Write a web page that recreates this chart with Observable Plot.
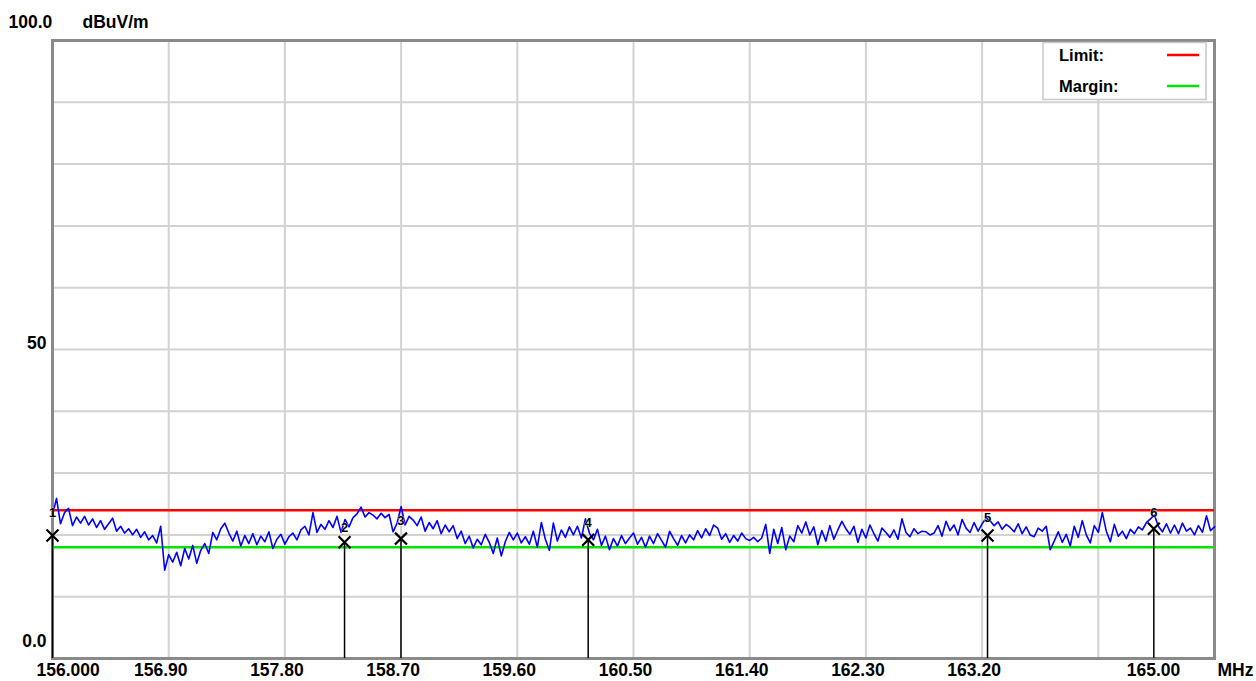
<!DOCTYPE html>
<html>
<head>
<meta charset="utf-8">
<script src="https://cdn.jsdelivr.net/npm/d3@7"></script>
<script src="https://cdn.jsdelivr.net/npm/@observablehq/plot@0.6"></script>
<style>
  html, body { margin: 0; padding: 0; background: #fff; overflow: hidden; }
  #chart svg { display: block; }
</style>
</head>
<body>
<div id="chart"></div>
<script>
// ---- data ----
const freqStart = 156.0;
const freqStop = 165.0;
const level = [
  23.2, 25.9, 21.8, 23.6, 24.3, 21.5, 22.9, 21.9, 23.0, 21.6,
  22.6, 21.2, 22.3, 20.9, 21.8, 22.7, 20.6, 21.4, 20.3, 21.0,
  20.0, 20.9, 19.6, 20.5, 19.2, 19.9, 18.7, 21.4, 14.3, 16.8,
  15.6, 17.2, 15.0, 17.8, 16.1, 18.3, 15.4, 17.5, 18.6, 17.0,
  20.4, 19.2, 21.0, 21.9, 20.3, 19.0, 20.6, 18.2, 19.9, 18.6,
  20.2, 18.4, 19.8, 18.9, 20.5, 17.8, 19.3, 20.1, 18.5, 19.7,
  20.3, 19.2, 20.8, 21.4, 20.0, 23.6, 20.4, 21.7, 20.9, 22.3,
  21.2, 23.0, 20.4, 22.5, 21.3, 22.8, 23.4, 24.5, 22.9, 23.6,
  23.2, 22.6, 23.5, 22.8, 23.3, 20.5, 21.9, 24.6, 21.6, 23.0,
  22.4, 21.5, 22.9, 20.6, 22.0, 21.0, 22.3, 20.2, 21.6, 20.5,
  21.5, 19.4, 20.6, 18.6, 19.8, 17.9, 19.3, 18.4, 20.1, 18.8,
  17.0, 19.5, 16.6, 18.9, 20.4, 19.2, 20.3, 18.7, 19.7, 18.5,
  20.6, 18.0, 22.0, 19.3, 17.5, 21.9, 19.0, 20.8, 19.6, 21.3,
  20.0, 21.4, 19.5, 22.6, 20.3, 19.2, 20.9, 18.3, 19.8, 17.6,
  19.4, 18.2, 19.9, 18.6, 19.5, 20.3, 18.5, 19.6, 18.0, 19.8,
  18.6, 20.2, 19.1, 18.0, 20.6, 19.4, 18.3, 19.9, 18.7, 20.0,
  19.2, 20.7, 19.5, 21.0, 19.9, 21.6, 21.1, 19.3, 20.2, 18.8,
  19.9, 19.0, 20.3, 19.4, 19.1, 19.6, 18.9, 19.5, 21.7, 17.0,
  20.9, 18.6, 21.2, 17.6, 19.8, 18.9, 21.5, 20.3, 22.1, 20.0,
  21.3, 18.4, 20.7, 19.0, 21.5, 19.3, 20.8, 22.2, 21.0, 20.1,
  21.4, 18.8, 20.9, 19.5, 21.6, 20.2, 19.0, 21.1, 20.4, 19.6,
  20.8, 19.3, 22.6, 20.4, 19.7, 21.0, 20.2, 20.6, 20.5, 20.0,
  20.3, 21.5, 19.8, 22.2, 20.7, 21.6, 20.0, 22.5, 21.1, 20.4,
  22.0, 20.6, 21.8, 22.7, 22.3, 21.5, 22.1, 20.9, 21.7, 21.2,
  20.5, 21.8, 20.2, 21.3, 20.0, 19.7, 21.1, 20.6, 21.4, 17.6,
  19.0, 20.5, 18.8, 20.1, 18.2, 21.4, 19.6, 22.3, 20.0, 18.7,
  21.5, 20.4, 23.6, 20.6, 18.9, 21.7, 19.8, 20.6, 19.4, 20.9,
  20.2, 21.3, 20.8, 22.0, 22.6, 23.2, 21.4, 20.5, 21.8, 20.3,
  21.6, 20.2, 21.9, 20.6, 21.1, 20.0, 21.5, 20.4, 23.1, 20.7, 21.3
];
const limitLevel = 24;
const marginLevel = 18;

const markerNo   = [1, 2, 3, 4, 5, 6];
const markerFreq = [156.000, 158.262, 158.699, 160.149, 163.242, 164.530];
const markerPeak = [23.5, 21.2, 22.3, 22.0, 22.8, 23.6];
const markerQP   = [19.9, 18.8, 19.4, 19.2, 19.9, 21.0];

const xGridValues = [156.9, 157.8, 158.7, 159.6, 160.5, 161.4, 162.3, 163.2, 164.1];
const yGridValues = [10, 20, 30, 40, 50, 60, 70, 80, 90];
const xTickValues = [156.9, 157.8, 158.7, 159.6, 160.5, 161.4, 162.3, 163.2];
const xTickLabels = ["156.90", "157.80", "158.70", "159.60", "160.50", "161.40", "162.30", "163.20"];
const xStartLabel = "156.000";
const xEndLabel = "165.00";
const xUnit = "MHz";
const yUnit = "dBuV/m";
const yTopLabel = "100.0";
const yMidLabel = "50";
const yBottomLabel = "0.0";
const legendItems = ["Limit:", "Margin:"];
const legendColors = ["#ff0000", "#00e400"];

// ---- build tables ----
const trace = level.map((v, i) => ({
  f: freqStart + i * (freqStop - freqStart) / (level.length - 1),
  v
}));
const markers = markerNo.map((n, i) => ({n, f: markerFreq[i], pk: markerPeak[i], qp: markerQP[i]}));

const font = "'Liberation Sans', Arial, sans-serif";
const txt = {fontSize: 17.5, fontWeight: "bold", fill: "#000"};

const chart = Plot.plot({
  width: 1256,
  height: 681,
  marginLeft: 52,
  marginRight: 42,
  marginTop: 40,
  marginBottom: 23,
  style: {fontFamily: font, background: "#fff"},
  x: {domain: [freqStart, freqStop], axis: null},
  y: {domain: [0, 100], axis: null},
  marks: [
    Plot.ruleX(xGridValues, {stroke: "#d2d2d2", strokeWidth: 2}),
    Plot.ruleY(yGridValues, {stroke: "#d2d2d2", strokeWidth: 2}),
    Plot.frame({stroke: "#8a8a8a", strokeWidth: 3}),
    Plot.ruleY([limitLevel], {stroke: legendColors[0], strokeWidth: 2.5}),
    Plot.ruleY([marginLevel], {stroke: legendColors[1], strokeWidth: 2.5}),
    Plot.line(trace, {x: "f", y: "v", stroke: "#0000ff", strokeWidth: 1.6}),
    Plot.ruleX(markers, {x: "f", y1: 0, y2: "qp", stroke: "#000", strokeWidth: 1.5}),
    Plot.dot(markers, {x: "f", y: "qp", symbol: "times", r: 5.5, stroke: "#000", strokeWidth: 2.2}),
    Plot.text(markers, {x: "f", y: "pk", text: d => String(d.n), fontSize: 13, fontWeight: "bold", fill: "#000", stroke: "#fff", strokeWidth: 0.6}),
    // x labels
    Plot.text(xTickValues, {x: d => d, text: (d, i) => xTickLabels[i], frameAnchor: "bottom", dy: 12, dx: -8, lineAnchor: "middle", ...txt}),
    Plot.text([freqStart], {x: d => d, text: () => xStartLabel, frameAnchor: "bottom", dy: 12, dx: -16, textAnchor: "start", lineAnchor: "middle", ...txt}),
    Plot.text([freqStop], {x: d => d, text: () => xEndLabel, frameAnchor: "bottom", dy: 12, dx: -61, lineAnchor: "middle", ...txt}),
    Plot.text([freqStop], {x: d => d, text: () => xUnit, frameAnchor: "bottom", dy: 12, dx: 3, textAnchor: "start", lineAnchor: "middle", ...txt}),
    // y labels
    Plot.text([100], {y: d => d, text: () => yTopLabel, frameAnchor: "left", dx: -44, dy: -18, textAnchor: "start", lineAnchor: "middle", ...txt}),
    Plot.text([100], {y: d => d, text: () => yUnit, frameAnchor: "left", dx: 30, dy: -18, textAnchor: "start", lineAnchor: "middle", ...txt}),
    Plot.text([50], {y: d => d, text: () => yMidLabel, frameAnchor: "left", dx: -6, dy: -6, textAnchor: "end", lineAnchor: "middle", ...txt}),
    Plot.text([0], {y: d => d, text: () => yBottomLabel, frameAnchor: "left", dx: -6, dy: -17, textAnchor: "end", lineAnchor: "middle", ...txt})
  ]
});
document.getElementById("chart").appendChild(chart);

// ---- legend box (inside the plot, top-right) ----
const svg = d3.select(chart);
const lg = svg.append("g").attr("font-family", font).attr("font-size", 16.5)
  .attr("font-weight", "bold").attr("text-anchor", "start");
lg.append("rect").attr("x", 1043).attr("y", 42.5).attr("width", 163).attr("height", 57)
  .attr("fill", "#fff").attr("stroke", "#c8c8c8").attr("stroke-width", 1.5);
legendItems.forEach((t, i) => {
  const yy = 55 + i * 31;
  lg.append("text").attr("x", 1059).attr("y", yy).attr("dy", "0.35em").attr("fill", "#000").text(t);
  lg.append("line").attr("x1", 1167).attr("x2", 1199).attr("y1", yy).attr("y2", yy)
    .attr("stroke", legendColors[i]).attr("stroke-width", 2.5);
});
</script>
</body>
</html>
